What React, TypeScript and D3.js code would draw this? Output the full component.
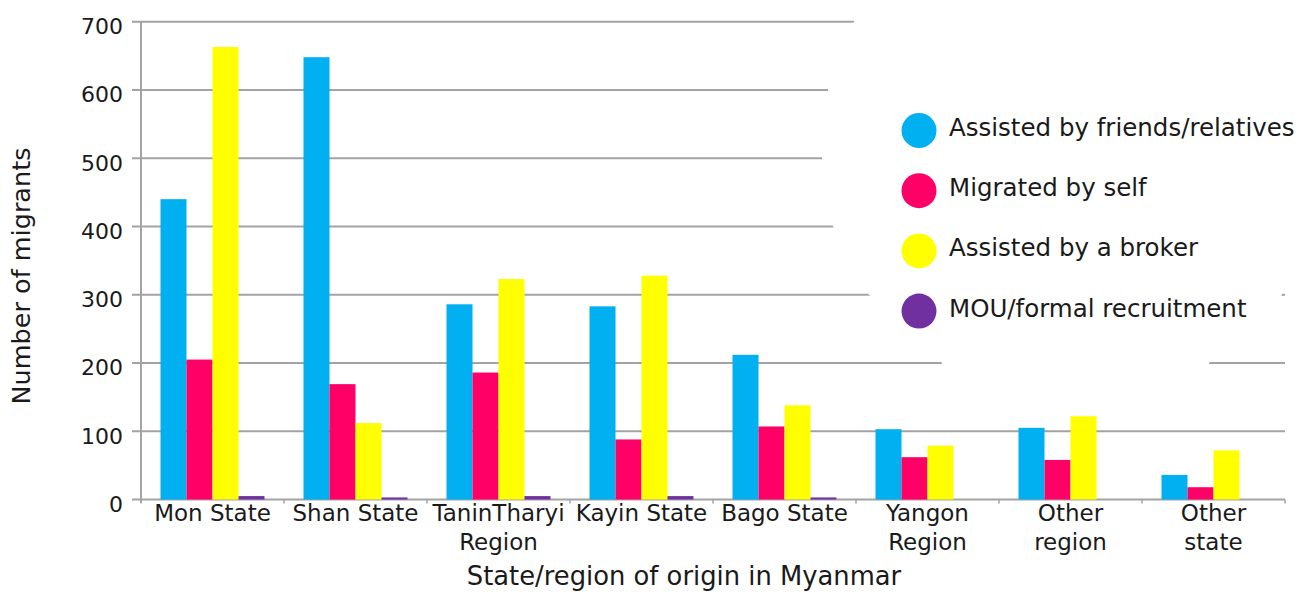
import React from "react";
import * as d3 from "d3";

const categories = [
  "Mon State",
  "Shan State",
  "TaninTharyi\nRegion",
  "Kayin State",
  "Bago State",
  "Yangon\nRegion",
  "Other\nregion",
  "Other\nstate",
];
const seriesNames = [
  "Assisted by friends/relatives",
  "Migrated by self",
  "Assisted by a broker",
  "MOU/formal recruitment",
];
const seriesColors = ["#00B0F0", "#FF0066", "#FFFF00", "#7030A0"];
const friendsValues = [440, 648, 286, 283, 212, 103, 105, 36];
const selfValues = [205, 169, 186, 88, 107, 62, 58, 18];
const brokerValues = [663, 112, 323, 328, 138, 79, 122, 72];
const mouValues = [5, 3, 5, 5, 3, 0, 0, 0];
const yTicks = [0, 100, 200, 300, 400, 500, 600, 700];
const yTitle = "Number of migrants";
const xTitle = "State/region of origin in Myanmar";

const allSeries = [friendsValues, selfValues, brokerValues, mouValues];

const W = 1300;
const H = 592;
const FONT = "'DejaVu Sans', sans-serif";
const TEXT = "#1a1a1a";
const GRID = "#a3a3a3";

export default function App() {
  const x0 = d3.scaleBand<string>().domain(categories).range([141, 1285]).padding(0);
  const x1 = d3
    .scaleBand<string>()
    .domain(seriesNames)
    .range([0, x0.bandwidth()])
    .paddingInner(0)
    .paddingOuter(0.75);
  const y = d3.scaleLinear().domain([0, 700]).range([499.5, 21.7]);

  // white backdrop of the legend, hiding parts of the gridlines
  const legendMask: [number, number][] = [
    [858, y(700) - 8],
    [854, y(700)],
    [828, y(600)],
    [822, y(500)],
    [833, y(400)],
    [869, y(300)],
    [942, y(200)],
    [942, y(200) + 4],
    [1209, y(200) + 4],
    [1209, y(200)],
    [1282, y(300)],
    [1282, y(300) - 4],
    [1296, y(300) - 4],
    [1296, y(700) - 8],
  ];
  const maskPath = d3.line()(legendMask) + "Z";

  const boundaries = categories.map((c) => x0(c) as number).concat([1285]);

  return (
    <svg
      width={W}
      height={H}
      style={{ position: "absolute", left: 0, top: 0, background: "#fff" }}
      fontFamily={FONT}
    >
      <rect x={0} y={0} width={W} height={H} fill="#fff" />
      {/* gridlines */}
      {yTicks.map((t) => (
        <line
          key={"g" + t}
          x1={132}
          x2={1285}
          y1={y(t)}
          y2={y(t)}
          stroke={GRID}
          strokeWidth={2}
        />
      ))}
      <path d={maskPath} fill="#fff" />
      {/* y axis line */}
      <line x1={141} x2={141} y1={y(700)} y2={y(0) + 3} stroke={GRID} strokeWidth={2} />
      {/* bottom category ticks */}
      {boundaries.map((b, i) => (
        <line key={"bt" + i} x1={b} x2={b} y1={y(0)} y2={y(0) + 4} stroke={GRID} strokeWidth={1.5} />
      ))}
      {/* bars */}
      {categories.map((c, ci) => (
        <g key={"grp" + ci} transform={`translate(${x0(c)},0)`}>
          {seriesNames.map((s, si) => {
            const v = allSeries[si][ci];
            if (!v) return null;
            return (
              <rect
                key={s}
                x={x1(s)}
                y={y(v)}
                width={x1.bandwidth()}
                height={y(0) - y(v)}
                fill={seriesColors[si]}
              />
            );
          })}
        </g>
      ))}
      {/* y tick labels */}
      {yTicks.map((t) => (
        <text
          key={"yl" + t}
          x={123}
          y={y(t) + 12.5}
          textAnchor="end"
          fontSize={22}
          fill={TEXT}
        >
          {t}
        </text>
      ))}
      {/* x tick labels */}
      {categories.map((c, ci) => {
        const cx = (x0(c) as number) + x0.bandwidth() / 2;
        return (
          <text key={"xl" + ci} textAnchor="middle" fontSize={23} fill={TEXT}>
            {c.split("\n").map((line, li) => (
              <tspan key={li} x={cx} y={520.7 + li * 28.8}>
                {line}
              </tspan>
            ))}
          </text>
        );
      })}
      {/* axis titles */}
      <text x={684} y={585} textAnchor="middle" fontSize={25.8} fill={TEXT}>
        {xTitle}
      </text>
      <text
        transform={`translate(30,276) rotate(-90)`}
        textAnchor="middle"
        fontSize={25.5}
        fill={TEXT}
      >
        {yTitle}
      </text>
      {/* legend */}
      {seriesNames.map((s, si) => {
        const cy = 130.5 + si * 60.2;
        return (
          <g key={"lg" + si}>
            <circle cx={919} cy={cy} r={17.5} fill={seriesColors[si]} />
            <text x={949} y={cy + 5.5} fontSize={24.5} fill={TEXT}>
              {s}
            </text>
          </g>
        );
      })}
    </svg>
  );
}
